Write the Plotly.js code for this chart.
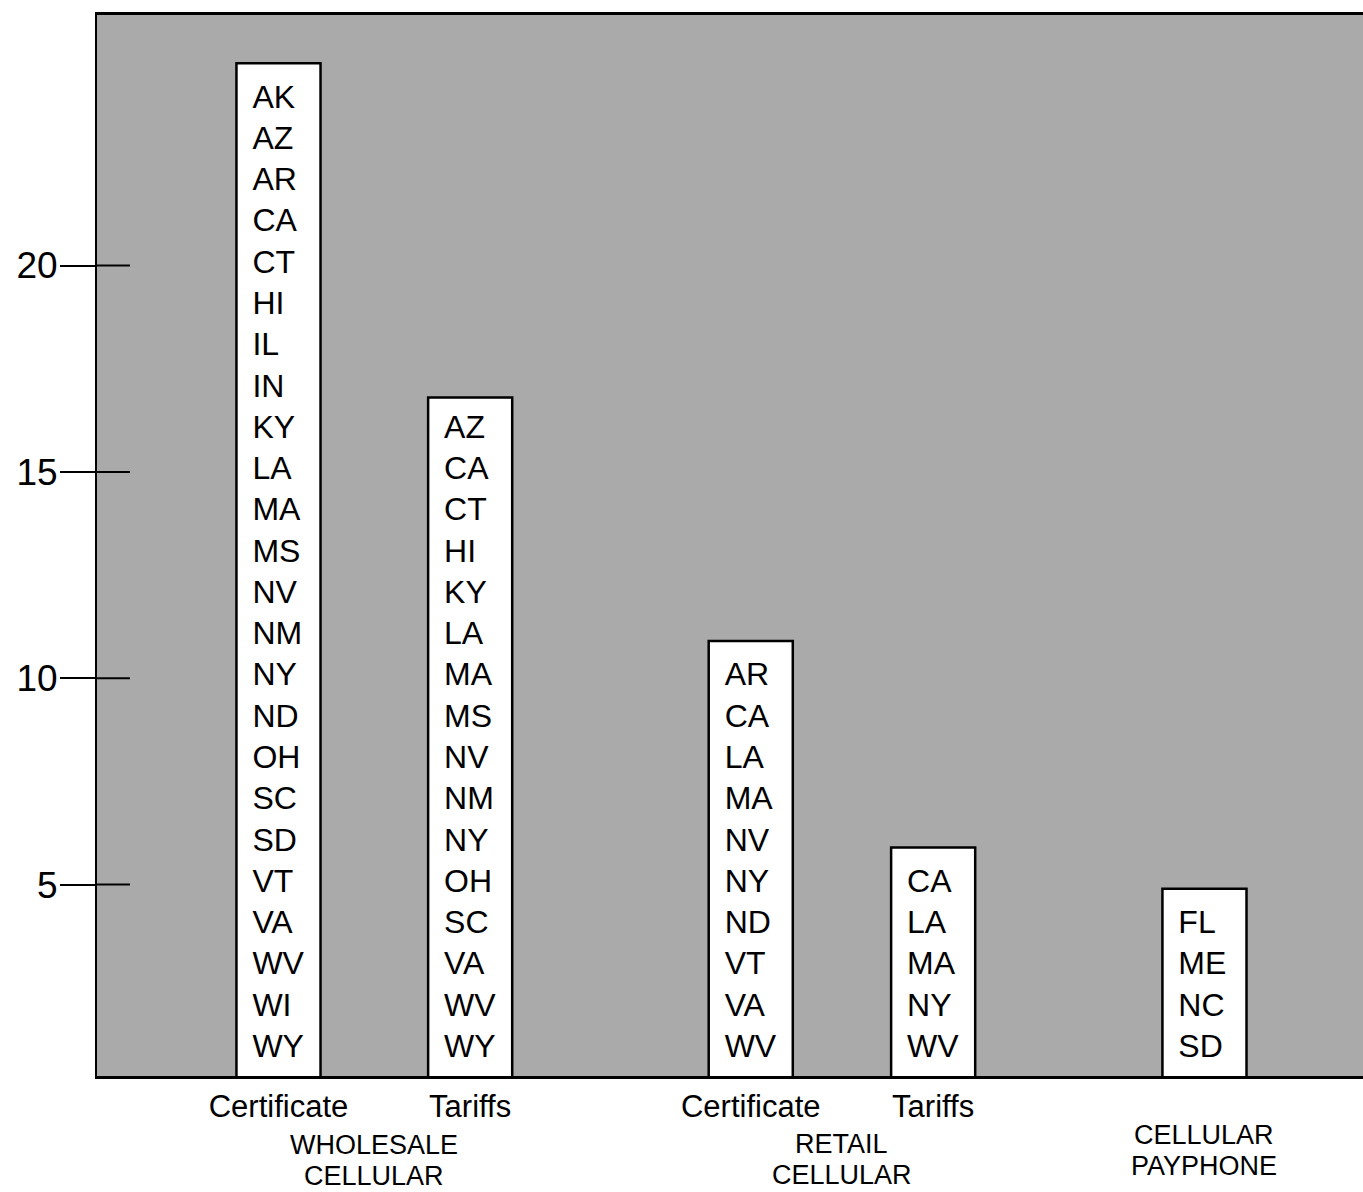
<!DOCTYPE html>
<html><head><meta charset="utf-8">
<script src="https://cdn.plot.ly/plotly-3.0.1.min.js"></script>
<style>html,body{margin:0;padding:0;background:#fff}</style>
</head><body><div id="chart" style="width:1363px;height:1192px"></div>
<script>
// ---- data ----
const barNames = ["Certificate", "Tariffs", "Certificate", "Tariffs", ""];
const groupLines = [["WHOLESALE", "CELLULAR"], ["RETAIL", "CELLULAR"], ["CELLULAR", "PAYPHONE"]];
const barGroup = [0, 0, 1, 1, 2];
const wholesaleCertificate = ["AK","AZ","AR","CA","CT","HI","IL","IN","KY","LA","MA","MS","NV","NM","NY","ND","OH","SC","SD","VT","VA","WV","WI","WY"];
const wholesaleTariffs = ["AZ","CA","CT","HI","KY","LA","MA","MS","NV","NM","NY","OH","SC","VA","WV","WY"];
const retailCertificate = ["AR","CA","LA","MA","NV","NY","ND","VT","VA","WV"];
const retailTariffs = ["CA","LA","MA","NY","WV"];
const cellularPayphone = ["FL","ME","NC","SD"];
const boxTops = [24.9, 16.8, 10.9, 5.9, 4.9];
const yTicks = [5, 10, 15, 20];

// ---- layout helpers ----
const stateLists = [wholesaleCertificate, wholesaleTariffs, retailCertificate, retailTariffs, cellularPayphone];
const slot = [1, 2.035, 3.55, 4.535, 6.0];
const barW = 0.454;
const FONT = '"Liberation Sans", Arial, Helvetica, sans-serif';

const lx = [], ly = [], lt = [];
stateLists.forEach((list, b) => {
  const n = list.length;
  list.forEach((s, i) => {
    lx.push(slot[b] - barW / 2 + 0.086);
    ly.push(n - i + 0.02);
    lt.push(s);
  });
});

const traces = [
  {
    type: 'bar', x: slot, y: boxTops, width: barW,
    marker: {color: '#ffffff', line: {color: '#000000', width: 2.5}},
    hoverinfo: 'skip', showlegend: false
  },
  {
    type: 'scatter', mode: 'text', x: lx, y: ly, text: lt,
    textposition: 'middle right',
    textfont: {family: FONT, size: 32, color: '#000'},
    hoverinfo: 'skip', showlegend: false
  }
];

const annotations = [];
const groupY = [[69, 100], [68, 99], [59, 90]];
groupLines.forEach((lines, g) => {
  const xs = slot.filter((_, i) => barGroup[i] === g);
  const cx = xs.reduce((a, c) => a + c, 0) / xs.length;
  lines.forEach((t, j) => {
    annotations.push({
      x: cx, xref: 'x', y: 0, yref: 'paper', yanchor: 'middle', xanchor: 'center',
      yshift: -groupY[g][j], text: t, showarrow: false, borderpad: 0,
      font: {family: FONT, size: 27, color: '#000'}
    });
  });
});

const shapes = yTicks.map(v => ({
  type: 'line', xref: 'paper', yref: 'y', x0: 0, x1: 33 / 1266, y0: v, y1: v,
  line: {color: '#000', width: 2}
}));

const layout = {
  width: 1363, height: 1192,
  margin: {l: 97, r: 0, t: 15, b: 116},
  paper_bgcolor: '#ffffff',
  plot_bgcolor: '#aaaaaa',
  showlegend: false,
  xaxis: {
    range: [0.02, 6.856], tickvals: slot, ticktext: barNames,
    ticks: '', showline: true, linecolor: '#000', linewidth: 3, mirror: true,
    showgrid: false, zeroline: false, ticklabelstandoff: 1,
    tickfont: {family: FONT, size: 31, color: '#000'}, fixedrange: true
  },
  yaxis: {
    range: [0.363, 26.07], tickvals: yTicks, ticktext: yTicks.map(String),
    ticks: 'outside', ticklen: 35, tickwidth: 2, tickcolor: '#000',
    showline: true, linecolor: '#000', linewidth: 2, mirror: false,
    showgrid: false, zeroline: false, ticklabelstandoff: -5,
    tickfont: {family: FONT, size: 37, color: '#000'}, fixedrange: true
  },
  annotations: annotations,
  shapes: shapes,
  bargap: 0
};

Plotly.newPlot('chart', traces, layout, {displayModeBar: false, staticPlot: true});
</script>
</body></html>
